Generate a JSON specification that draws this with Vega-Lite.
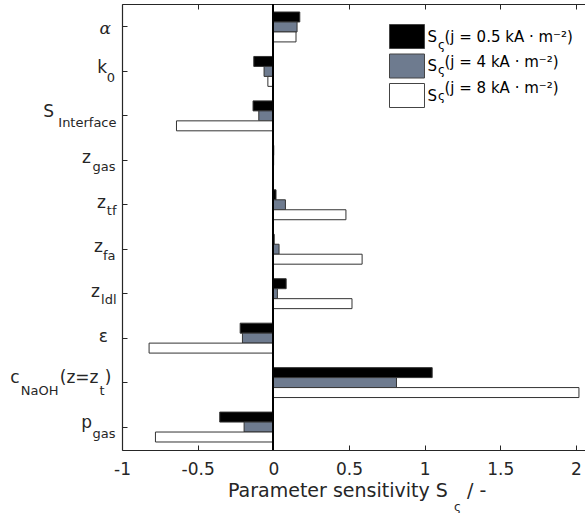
{
  "$schema": "https://vega.github.io/schema/vega-lite/v6.json",
  "width": 463,
  "height": 446,
  "autosize": {"type": "none"},
  "padding": {"left": 122, "top": 4, "right": 0, "bottom": 63},
  "config": {
    "view": {"stroke": null},
    "font": "DejaVu Sans",
    "axis": {"grid": false, "labelColor": "#262626", "titleColor": "#262626", "domainColor": "#262626", "tickColor": "#262626"}
  },
  "data": {
    "values": [
      {"param": "alpha", "series": "j05", "value": 0.175},
      {"param": "alpha", "series": "j4", "value": 0.157},
      {"param": "alpha", "series": "j8", "value": 0.15},
      {"param": "k0", "series": "j05", "value": -0.129},
      {"param": "k0", "series": "j4", "value": -0.061},
      {"param": "k0", "series": "j8", "value": -0.036},
      {"param": "S", "series": "j05", "value": -0.134},
      {"param": "S", "series": "j4", "value": -0.096},
      {"param": "S", "series": "j8", "value": -0.64},
      {"param": "zgas", "series": "j05", "value": 0.003},
      {"param": "zgas", "series": "j4", "value": 0.002},
      {"param": "zgas", "series": "j8", "value": 0.001},
      {"param": "ztf", "series": "j05", "value": 0.018},
      {"param": "ztf", "series": "j4", "value": 0.08},
      {"param": "ztf", "series": "j8", "value": 0.48},
      {"param": "zfa", "series": "j05", "value": 0.006},
      {"param": "zfa", "series": "j4", "value": 0.038},
      {"param": "zfa", "series": "j8", "value": 0.587},
      {"param": "zldl", "series": "j05", "value": 0.085},
      {"param": "zldl", "series": "j4", "value": 0.027},
      {"param": "zldl", "series": "j8", "value": 0.52},
      {"param": "eps", "series": "j05", "value": -0.219},
      {"param": "eps", "series": "j4", "value": -0.204},
      {"param": "eps", "series": "j8", "value": -0.821},
      {"param": "cNaOH", "series": "j05", "value": 1.05},
      {"param": "cNaOH", "series": "j4", "value": 0.814},
      {"param": "cNaOH", "series": "j8", "value": 2.02},
      {"param": "pgas", "series": "j05", "value": -0.354},
      {"param": "pgas", "series": "j4", "value": -0.193},
      {"param": "pgas", "series": "j8", "value": -0.779}
    ]
  },
  "layer": [
    {
      "mark": {"type": "bar", "stroke": "#333333", "strokeWidth": 1},
      "encoding": {
        "y": {
          "field": "param", "type": "nominal",
          "sort": ["alpha", "k0", "S", "zgas", "ztf", "zfa", "zldl", "eps", "cNaOH", "pgas"],
          "scale": {"type": "band", "paddingInner": 0.327, "paddingOuter": 0.18},
          "axis": {
            "orient": "left", "title": null, "domain": true, "domainWidth": 1.2,
            "ticks": true, "tickSize": -5, "tickWidth": 1,
            "labelExpr": "['α','k','S','z','z','z','z','ε','c','p'][indexof(['alpha','k0','S','zgas','ztf','zfa','zldl','eps','cNaOH','pgas'], datum.value)]",
            "labelFontSize": 17, "labelAlign": "right", "labelBaseline": "alphabetic",
            "labelPadding": {"expr": "[16.5,20.5,73.5,36.5,21.5,24.5,27.5,19.5,108,35.5][indexof(['alpha','k0','S','zgas','ztf','zfa','zldl','eps','cNaOH','pgas'], datum.value)]"},
            "labelOffset": {"expr": "[7,2,1.6,3,3,3,3,4,0,1][indexof(['alpha','k0','S','zgas','ztf','zfa','zldl','eps','cNaOH','pgas'], datum.value)]"},
            "labelFont": {"condition": {"test": "datum.value === 'alpha'", "value": "DejaVu Serif"}, "value": "DejaVu Sans"},
            "labelFontStyle": {"condition": {"test": "datum.value === 'alpha'", "value": "italic"}, "value": "normal"},
            "labelOverlap": false, "labelLimit": 0
          }
        },
        "yOffset": {"field": "series", "type": "nominal", "sort": ["j05", "j4", "j8"], "scale": {"paddingInner": 0, "paddingOuter": 0}},
        "x": {
          "field": "value", "type": "quantitative",
          "scale": {"domain": [-1, 2.06], "nice": false, "zero": false},
          "axis": {
            "orient": "bottom", "values": [-1, -0.5, 0, 0.5, 1, 1.5, 2],
            "domain": true, "domainWidth": 1.2, "ticks": true, "tickSize": -5,
            "labelExpr": "datum.value < 0 ? '-' + (-datum.value) : '' + datum.value",
            "labelFontSize": 17, "labelPadding": 16, "labelFlush": false, "labelOverlap": false,
            "title": "Parameter sensitivity S", "titleFontSize": 19, "titleFontWeight": "normal",
            "titleX": 105.5, "titleY": 46, "titleBaseline": "alphabetic", "titleAlign": "left"
          }
        },
        "fill": {
          "field": "series", "type": "nominal",
          "scale": {"domain": ["j05", "j4", "j8"], "range": ["#000000", "#6e7b8f", "#ffffff"]},
          "legend": {
            "orient": "none", "legendX": 272.5, "legendY": 20, "title": null, "direction": "vertical",
            "symbolType": "M-1.458,-1H1.458V1H-1.458Z", "symbolSize": 576, "symbolStrokeWidth": 1, "symbolStrokeColor": "#444444",
            "labelExpr": "'S'",
            "labelFontSize": 15, "labelOffset": 8, "rowPadding": 0.5, "padding": 0, "labelColor": "#000000", "labelLimit": 0
          }
        }
      }
    },
    {
      "mark": {"type": "point", "opacity": 0},
      "encoding": {
        "y": {
          "field": "param", "type": "nominal",
          "sort": ["alpha", "k0", "S", "zgas", "ztf", "zfa", "zldl", "eps", "cNaOH", "pgas"],
          "axis": {
            "orient": "left", "title": null, "domain": false, "ticks": false,
            "labelExpr": "['','0','Interface','gas','tf','fa','ldl','','NaOH','gas'][indexof(['alpha','k0','S','zgas','ztf','zfa','zldl','eps','cNaOH','pgas'], datum.value)]",
            "labelFontSize": 13, "labelAlign": "right", "labelBaseline": "alphabetic",
            "labelPadding": {"expr": "[0,7.5,6,7,6,7,6,0,64,7][indexof(['alpha','k0','S','zgas','ztf','zfa','zldl','eps','cNaOH','pgas'], datum.value)]"},
            "labelOffset": {"expr": "[10.5,11,11.3,10.5,10.5,10.5,10.5,10.5,12,10.5][indexof(['alpha','k0','S','zgas','ztf','zfa','zldl','eps','cNaOH','pgas'], datum.value)]"},
            "labelOverlap": false, "labelLimit": 0
          }
        },
        "x": {
          "field": "value", "type": "quantitative",
          "axis": {
            "orient": "top", "values": [-1, -0.5, 0, 0.5, 1, 1.5, 2],
            "domain": true, "domainWidth": 1.2, "ticks": true, "tickSize": -5, "labels": false,
            "title": "ς", "titleFontSize": 12, "titleFontWeight": "normal",
            "titleX": 335, "titleY": 506, "titleBaseline": "alphabetic", "titleAlign": "center"
          }
        },
        "shape": {
          "field": "series", "type": "nominal",
          "scale": {"range": ["M-1.458,-1H1.458V1H-1.458Z"]},
          "legend": {
            "orient": "none", "legendX": 272.5, "legendY": 28, "title": null, "direction": "vertical",
            "symbolSize": 576, "symbolOpacity": 0, "symbolStrokeWidth": 1,
            "labelExpr": "'ς'", "labelFontSize": 12, "labelOffset": 18.5, "rowPadding": 0.5, "padding": 0, "labelColor": "#000000"
          }
        }
      }
    },
    {
      "mark": {"type": "point", "opacity": 0},
      "encoding": {
        "y": {
          "field": "param", "type": "nominal",
          "sort": ["alpha", "k0", "S", "zgas", "ztf", "zfa", "zldl", "eps", "cNaOH", "pgas"],
          "axis": {
            "orient": "left", "title": null, "domain": false, "ticks": false,
            "labelExpr": "datum.value === 'cNaOH' ? '(z=z' : ''",
            "labelFontSize": 17, "labelAlign": "right", "labelBaseline": "alphabetic",
            "labelPadding": 24, "labelOffset": 0, "labelOverlap": false, "labelLimit": 0
          }
        },
        "x": {
          "field": "value", "type": "quantitative",
          "axis": {
            "orient": "bottom", "domain": false, "ticks": false, "labels": false,
            "title": "/ -", "titleFontSize": 19, "titleFontWeight": "normal",
            "titleX": 344.5, "titleY": 46, "titleBaseline": "alphabetic", "titleAlign": "left"
          }
        },
        "strokeDash": {
          "field": "series", "type": "nominal",
          "scale": {"domain": ["j05", "j4", "j8", "none"]},
          "legend": {
            "orient": "none", "legendX": 272.5, "legendY": 20, "title": null, "direction": "vertical",
            "values": ["j05", "j4", "j8"],
            "symbolType": "M-1.458,-1H1.458V1H-1.458Z", "symbolSize": 576, "symbolOpacity": 0, "symbolStrokeWidth": 1,
            "labelExpr": "datum.value === 'j05' ? '(j = 0.5 kA · m⁻²)' : datum.value === 'j4' ? '(j = 4 kA · m⁻²)' : '(j = 8 kA · m⁻²)'",
            "labelFontSize": 15, "labelOffset": 25, "rowPadding": 0.5, "padding": 0, "labelColor": "#000000", "labelLimit": 0
          }
        }
      }
    },
    {
      "mark": {"type": "point", "opacity": 0},
      "encoding": {
        "y": {
          "field": "param", "type": "nominal",
          "sort": ["alpha", "k0", "S", "zgas", "ztf", "zfa", "zldl", "eps", "cNaOH", "pgas"],
          "axis": {
            "orient": "left", "title": null, "domain": false, "ticks": false,
            "labelExpr": "datum.value === 'cNaOH' ? 't' : ''",
            "labelFontSize": 13, "labelAlign": "right", "labelBaseline": "alphabetic",
            "labelPadding": 18, "labelOffset": 12, "labelOverlap": false, "labelLimit": 0
          }
        }
      }
    },
    {
      "mark": {"type": "point", "opacity": 0},
      "encoding": {
        "y": {
          "field": "param", "type": "nominal",
          "sort": ["alpha", "k0", "S", "zgas", "ztf", "zfa", "zldl", "eps", "cNaOH", "pgas"],
          "axis": {
            "orient": "left", "title": null, "domain": false, "ticks": false,
            "labelExpr": "datum.value === 'cNaOH' ? ')' : ''",
            "labelFontSize": 17, "labelAlign": "right", "labelBaseline": "alphabetic",
            "labelPadding": 11, "labelOffset": 0, "labelOverlap": false, "labelLimit": 0
          }
        }
      }
    },
    {
      "mark": {"type": "rule", "color": "#000000", "strokeWidth": 1.2},
      "encoding": {"x": {"datum": 0, "type": "quantitative", "axis": null}}
    }
  ],
  "resolve": {"axis": {"x": "independent", "y": "independent"}}
}
